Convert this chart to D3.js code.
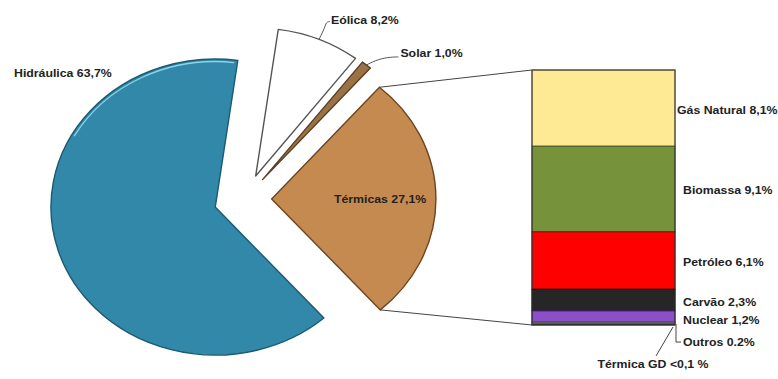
<!DOCTYPE html>
<html><head><meta charset="utf-8">
<script src="https://cdn.jsdelivr.net/npm/d3@7"></script>
<style>body{margin:0;background:#fff}svg{display:block}</style>
</head><body><svg id="c" width="778" height="379"></svg>
<script>
// ---- data ----
const pieCategories = ["Eólica", "Solar", "Térmicas", "Hidráulica"];
const pieValues = [8.2, 1.0, 27.1, 63.7];
const pieLabels = ["Eólica 8,2%", "Solar 1,0%", "Térmicas 27,1%", "Hidráulica 63,7%"];
const barCategories = ["Gás Natural", "Biomassa", "Petróleo", "Carvão", "Nuclear", "Outros", "Térmica GD"];
const barValues = [8.1, 9.1, 6.1, 2.3, 1.2, 0.2, 0.1];
const barLabels = ["Gás Natural 8,1%", "Biomassa 9,1%", "Petróleo 6,1%", "Carvão 2,3%", "Nuclear 1,2%", "Outros 0.2%", "Térmica GD <0,1 %"];

// ---- styles ----
const pieStyle = {
  "Eólica":     {fill: "#ffffff", stroke: "#555", explode: 25},
  "Solar":      {fill: "#9a7245", stroke: "#5a3f22", explode: 25},
  "Térmicas":   {fill: "#c58a50", stroke: "#6a4523", explode: 24},
  "Hidráulica": {fill: "#3188a8", stroke: "#1b5a70", explode: 28}
};
const barStyle = {
  "Gás Natural": {fill: "#feea94", stroke: "#8a7d3c"},
  "Biomassa":    {fill: "#76923a", stroke: "#3f5220"},
  "Petróleo":    {fill: "#fe0000", stroke: "#7a1010"},
  "Carvão":      {fill: "#262626", stroke: "#111"},
  "Nuclear":     {fill: "#8b4fc8", stroke: "#3d1a60"},
  "Outros":      {fill: "#9a9a9a", stroke: "#444"},
  "Térmica GD":  {fill: "#4f81bd", stroke: "#333"}
};

const svg = d3.select("#c");
const cx = 245, cy = 199, R = 148, SX = 1.11;
const textStretch = 1.12;
const font = "'Liberation Sans', Arial, sans-serif";

const pie = d3.pie().sort(null).value(d => d)
  .startAngle(7.9 * Math.PI / 180).endAngle(7.9 * Math.PI / 180 + 2 * Math.PI);
const arcs = pie(pieValues);
const arc = d3.arc().innerRadius(0).outerRadius(R);

function offset(d, i) {
  const m = (d.startAngle + d.endAngle) / 2;
  const e = pieStyle[pieCategories[i]].explode;
  return [Math.sin(m) * e, -Math.cos(m) * e];
}
function toPx(d, i, ang, r) {
  const [ox, oy] = offset(d, i);
  return [cx + SX * (ox + Math.sin(ang) * r), cy + (oy - Math.cos(ang) * r)];
}

const pg = svg.append("g").attr("transform", `translate(${cx},${cy}) scale(${SX},1)`);
pg.selectAll("path").data(arcs).join("path")
  .attr("transform", (d, i) => `translate(${offset(d, i)})`)
  .attr("d", arc)
  .attr("fill", (d, i) => pieStyle[pieCategories[i]].fill)
  .attr("stroke", (d, i) => pieStyle[pieCategories[i]].stroke)
  .attr("stroke-width", 1.4)
  .attr("vector-effect", "non-scaling-stroke")
  .attr("stroke-linejoin", "round");

// highlight on hydraulic outer edge
const hi = 3;
pg.append("path")
  .attr("transform", `translate(${offset(arcs[hi], hi)})`)
  .attr("d", d3.arc()({innerRadius: R - 2.5, outerRadius: R - 2.5, startAngle: arcs[hi].endAngle - 1.2, endAngle: arcs[hi].endAngle - 0.02}))
  .attr("fill", "none").attr("stroke", "#8fd3ea").attr("stroke-width", 1.3)
  .attr("vector-effect", "non-scaling-stroke");

function addText(x, y, str, anchor) {
  svg.append("text")
    .attr("transform", `translate(${x},${y}) scale(${textStretch},1)`)
    .attr("text-anchor", anchor || "start")
    .attr("dy", "0.35em")
    .attr("font-family", font).attr("font-size", 11).attr("font-weight", "bold")
    .attr("fill", "#222").text(str);
}

// Pie labels
addText(14, 73, pieLabels[3]);
{
  const d = arcs[2];
  const c = toPx(d, 2, (d.startAngle + d.endAngle) / 2, R * 0.66);
  addText(c[0], c[1] + 1, pieLabels[2], "middle");
}
// Eólica leader
{
  const d = arcs[0];
  const p = toPx(d, 0, (d.startAngle + d.endAngle) / 2, R);
  svg.append("path").attr("d", d3.line().curve(d3.curveBasis)([p, [p[0] + 6, p[1] - 12], [p[0] + 7, p[1] - 17], [p[0] + 11, p[1] - 18]]))
    .attr("fill", "none").attr("stroke", "#555").attr("stroke-width", 1);
  addText(p[0] + 12, p[1] - 19, pieLabels[0]);
}
// Solar leader
{
  const d = arcs[1];
  const p = toPx(d, 1, (d.startAngle + d.endAngle) / 2, R);
  svg.append("path").attr("d", d3.line().curve(d3.curveBasis)([p, [p[0] + 12, p[1] - 6], [p[0] + 25, p[1] - 8], [p[0] + 32, p[1] - 8]]))
    .attr("fill", "none").attr("stroke", "#555").attr("stroke-width", 1);
  addText(p[0] + 34, p[1] - 12, pieLabels[1]);
}

// ---- bar ----
const bx0 = 532, bx1 = 675;
const y = d3.scaleLinear().domain([0, d3.sum(barValues)]).range([70, 325]);
const cum = d3.cumsum(barValues);
const segs = barValues.map((v, i) => ({cat: barCategories[i], v, y0: cum[i] - v, y1: cum[i], label: barLabels[i]}));

// connectors
{
  const d = arcs[2];
  const top = toPx(d, 2, d.startAngle, R);
  const bot = toPx(d, 2, d.endAngle, R);
  svg.append("line").attr("x1", top[0]).attr("y1", top[1]).attr("x2", bx0).attr("y2", y(0))
    .attr("stroke", "#444").attr("stroke-width", 1);
  svg.append("line").attr("x1", bot[0]).attr("y1", bot[1]).attr("x2", bx0).attr("y2", y(d3.sum(barValues)))
    .attr("stroke", "#444").attr("stroke-width", 1);
}

svg.append("g").selectAll("rect").data(segs).join("rect")
  .attr("x", bx0).attr("width", bx1 - bx0)
  .attr("y", d => y(d.y0)).attr("height", d => y(d.y1) - y(d.y0))
  .attr("fill", d => barStyle[d.cat].fill)
  .attr("stroke", d => barStyle[d.cat].stroke).attr("stroke-width", 1);
svg.append("rect").attr("x", bx0).attr("y", y(0)).attr("width", bx1 - bx0).attr("height", y(d3.sum(barValues)) - y(0))
  .attr("fill", "none").attr("stroke", "#333").attr("stroke-width", 1);

const labDx = {"Gás Natural": -6};
const labDy = {"Gás Natural": 2, "Biomassa": 1, "Petróleo": 1.5, "Carvão": 2, "Nuclear": 3.5};
segs.slice(0, 5).forEach(s => {
  addText(bx1 + 8 + (labDx[s.cat] || 0), (y(s.y0) + y(s.y1)) / 2 + (labDy[s.cat] || 0), s.label);
});
// Outros
{
  const s = segs[5];
  const yb = y(s.y1);
  svg.append("path").attr("d", d3.line()([[bx1 + 1, yb], [bx1 + 1, yb + 18], [bx1 + 6, yb + 18]]))
    .attr("fill", "none").attr("stroke", "#444").attr("stroke-width", 1);
  addText(bx1 + 8, yb + 18, s.label);
}
// Térmica GD
{
  const s = segs[6];
  const yb = y(s.y1);
  svg.append("path").attr("d", d3.line()([[bx1 - 2, yb + 2], [bx1 - 19, yb + 31]]))
    .attr("fill", "none").attr("stroke", "#444").attr("stroke-width", 1);
  addText(bx1 - 22, yb + 39, s.label, "middle");
}
</script>
</body></html>
